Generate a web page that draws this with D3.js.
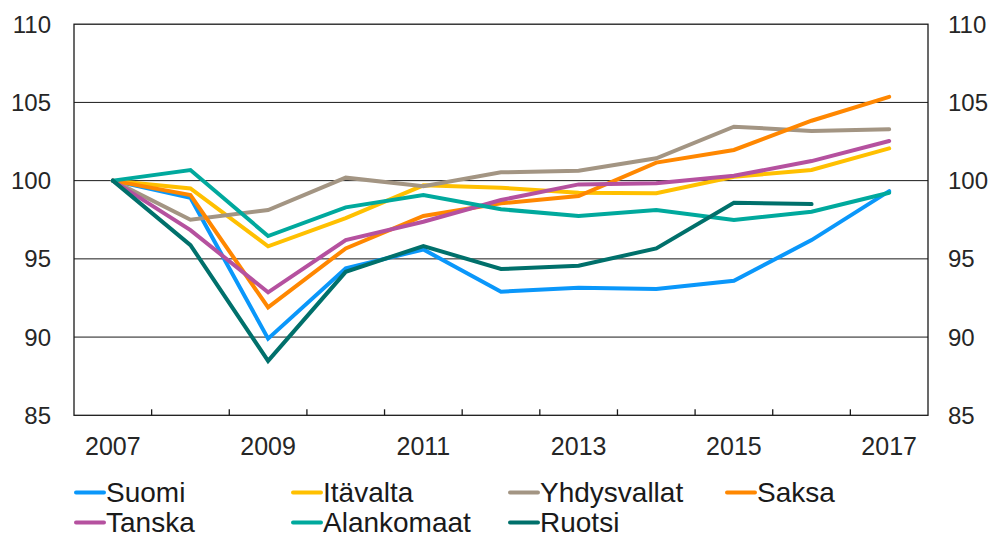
<!DOCTYPE html>
<html>
<head>
<meta charset="utf-8">
<script src="https://cdn.jsdelivr.net/npm/d3@7"></script>
<style>
  html, body { margin: 0; padding: 0; background: #fff; }
  svg { display: block; font-family: "Liberation Sans", Arial, sans-serif; }
</style>
</head>
<body>
<svg id="chart" width="994" height="533"></svg>
<script>
const years = [2007, 2008, 2009, 2010, 2011, 2012, 2013, 2014, 2015, 2016, 2017];
const yTicks = [85, 90, 95, 100, 105, 110];
const xLabelYears = [2007, 2009, 2011, 2013, 2015, 2017];
const seriesNames = ["Suomi", "Itävalta", "Yhdysvallat", "Saksa", "Tanska", "Alankomaat", "Ruotsi"];
const seriesColors = ["#0A97FA", "#FFC000", "#A39583", "#FF8700", "#B5519F", "#00A99D", "#00706B"];
const suomi       = [100, 98.9, 89.9, 94.4, 95.6, 92.9, 93.15, 93.07, 93.6, 96.2, 99.33];
const itavalta    = [100, 99.5, 95.8, 97.6, 99.7, 99.55, 99.23, 99.19, 100.25, 100.68, 102.06];
const yhdysvallat = [100, 97.5, 98.12, 100.19, 99.65, 100.53, 100.63, 101.43, 103.45, 103.17, 103.28];
const saksa       = [100, 99.08, 91.9, 95.67, 97.74, 98.55, 99.02, 101.15, 101.96, 103.83, 105.36];
const tanska      = [100, 96.84, 92.86, 96.2, 97.37, 98.76, 99.76, 99.83, 100.31, 101.25, 102.53];
const alankomaat  = [100, 100.68, 96.46, 98.29, 99.08, 98.17, 97.74, 98.12, 97.48, 98.01, 99.23];
const ruotsi      = [100, 95.88, 88.48, 94.17, 95.82, 94.35, 94.56, 95.67, 98.59, 98.5, null];
const seriesValues = [suomi, itavalta, yhdysvallat, saksa, tanska, alankomaat, ruotsi];

const svg = d3.select("#chart");
const L = 74, R = 928, T = 24.2, B = 415.3;
const FONT = "'Liberation Sans', Arial, sans-serif";

const x = d3.scaleBand().domain(years).range([L, R]).paddingInner(0).paddingOuter(0);
const y = d3.scaleLinear().domain([85, 110]).range([B, T]);

// gridlines
svg.append("g").selectAll("line").data(yTicks.filter(d => d > 85 && d < 110)).join("line")
  .attr("x1", L).attr("x2", R)
  .attr("y1", d => y(d)).attr("y2", d => y(d))
  .attr("stroke", "#1a1a1a").attr("stroke-width", 1);

// lines
const line = d3.line()
  .defined(d => d.v != null)
  .x(d => x(d.year) + x.bandwidth() / 2)
  .y(d => y(d.v));

const gLines = svg.append("g");
seriesNames.forEach((name, i) => {
  const data = years.map((yr, j) => ({ year: yr, v: seriesValues[i][j] }));
  gLines.append("path")
    .datum(data)
    .attr("d", line)
    .attr("fill", "none")
    .attr("stroke", seriesColors[i])
    .attr("stroke-width", 4)
    .attr("stroke-linecap", "round")
    .attr("stroke-linejoin", "miter");
});

// frame
svg.append("rect").attr("x", L).attr("y", T).attr("width", R - L).attr("height", B - T)
  .attr("fill", "none").attr("stroke", "#1a1a1a").attr("stroke-width", 1.3);

// x axis labels + inward ticks at band boundaries
const xAxis = d3.axisBottom(x).tickSize(0).tickFormat(d => xLabelYears.includes(d) ? d : "");
const gx = svg.append("g").attr("transform", `translate(0,${B})`).call(xAxis);
gx.select(".domain").remove();
gx.selectAll("text").attr("font-size", 25).attr("fill", "#262626")
  .attr("font-family", FONT).attr("y", 40).attr("dy", 0);
svg.append("g").selectAll("line").data(years.slice(1)).join("line")
  .attr("x1", d => x(d)).attr("x2", d => x(d))
  .attr("y1", B).attr("y2", B - 6)
  .attr("stroke", "#1a1a1a").attr("stroke-width", 1.3);

// y axes
const yLeft = d3.axisLeft(y).tickValues(yTicks).tickSize(0).tickPadding(23);
const gyl = svg.append("g").attr("transform", `translate(${L},0)`).call(yLeft);
gyl.select(".domain").remove();
gyl.selectAll("text").attr("font-size", 24).attr("fill", "#262626")
  .attr("font-family", FONT).attr("dy", "0.33em");

const yRight = d3.axisRight(y).tickValues(yTicks).tickSize(0).tickPadding(20);
const gyr = svg.append("g").attr("transform", `translate(${R},0)`).call(yRight);
gyr.select(".domain").remove();
gyr.selectAll("text").attr("font-size", 24).attr("fill", "#262626")
  .attr("font-family", FONT).attr("dy", "0.33em");

// legend
const legend = svg.append("g");
seriesNames.forEach((name, i) => {
  const col = i < 4 ? i : i - 4;
  const row = i < 4 ? 0 : 1;
  const lx = 76 + col * 217;
  const ly = 492.5 + row * 30;
  const g = legend.append("g").attr("transform", `translate(${lx},${ly})`);
  g.append("line").attr("x1", 0).attr("x2", 28).attr("y1", 0).attr("y2", 0)
    .attr("stroke", seriesColors[i]).attr("stroke-width", 4).attr("stroke-linecap", "round");
  g.append("text").attr("x", 30).attr("y", 9.8).attr("font-size", 28).attr("fill", "#1a1a1a")
    .attr("font-family", FONT)
    .text(name);
});
</script>
</body>
</html>
